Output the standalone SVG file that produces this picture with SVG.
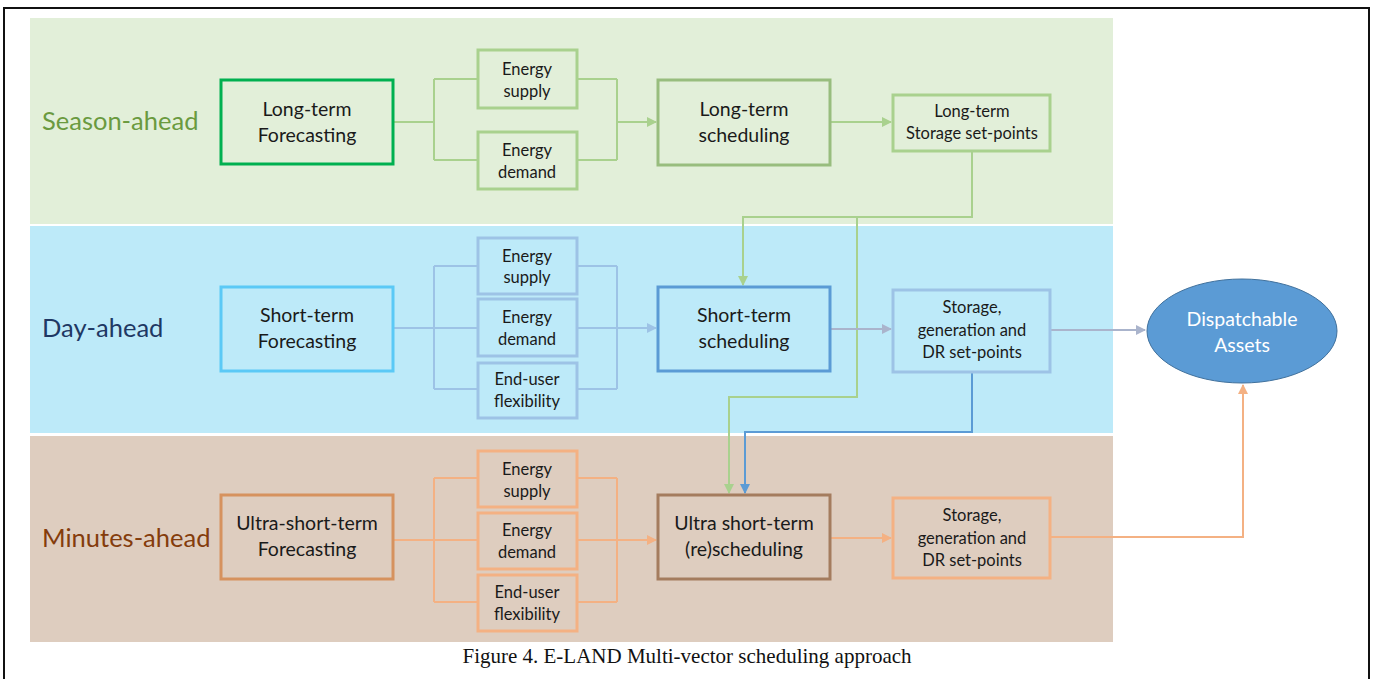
<svg xmlns="http://www.w3.org/2000/svg" width="1374" height="679" viewBox="0 0 1374 679">
<defs>
<style>
.t{font-family:Lato,"Liberation Sans",sans-serif;fill:#1a1a1a;text-anchor:middle}
.b{font-size:19.5px}
.s{font-size:16.5px}
.x{font-size:16.5px}
.lab{font-family:Lato,"Liberation Sans",sans-serif;font-size:25.5px}
.box{stroke-width:3}
.c{fill:none;stroke-width:2}
</style>
<marker id="ag" viewBox="0 0 10 10" refX="9" refY="5" markerWidth="5" markerHeight="5" orient="auto"><path d="M0,0L10,5L0,10z" fill="#a9d18e"/></marker>
<marker id="ab" viewBox="0 0 10 10" refX="9" refY="5" markerWidth="5" markerHeight="5" orient="auto"><path d="M0,0L10,5L0,10z" fill="#9dc3e6"/></marker>
<marker id="ap" viewBox="0 0 10 10" refX="9" refY="5" markerWidth="5" markerHeight="5" orient="auto"><path d="M0,0L10,5L0,10z" fill="#aab4cc"/></marker>
<marker id="ad" viewBox="0 0 10 10" refX="9" refY="5" markerWidth="5" markerHeight="5" orient="auto"><path d="M0,0L10,5L0,10z" fill="#5b9bd5"/></marker>
<marker id="ao" viewBox="0 0 10 10" refX="9" refY="5" markerWidth="5" markerHeight="5" orient="auto"><path d="M0,0L10,5L0,10z" fill="#f4b183"/></marker>
</defs>
<rect width="1374" height="679" fill="#fff"/>
<rect x="4" y="8" width="1365" height="680" fill="none" stroke="#111" stroke-width="2"/>
<g id="bands">
<rect x="30" y="18" width="1083" height="206" fill="#e2efd9"/>
<rect x="30" y="226" width="1083" height="207" fill="#bdeaf9"/>
<rect x="30" y="436" width="1083" height="206" fill="#decdbf"/>
<text class="lab" x="42" y="130" fill="#6a9a3f">Season-ahead</text>
<text class="lab" x="42" y="337" fill="#1f3864">Day-ahead</text>
<text class="lab" x="42" y="547" fill="#843c0c">Minutes-ahead</text>
</g>
<g id="connectors">
<path class="c" stroke="#a9d18e" d="M393,122H434M434,79V160M434,79H478M434,160H478M577,79H617M577,160H617M617,79V160"/>
<path class="c" stroke="#a9d18e" d="M617,122H656" marker-end="url(#ag)"/>
<path class="c" stroke="#a9d18e" d="M830,122H891" marker-end="url(#ag)"/>
<path class="c" stroke="#a9d18e" d="M972,151V217H743V285" marker-end="url(#ag)"/>
<path class="c" stroke="#a9d18e" d="M857,217V397H729V493" marker-end="url(#ag)"/>
<path class="c" stroke="#9dc3e6" d="M393,328H434M434,266V389M434,266H478M434,328H478M434,389H478M577,266H617M577,328H617M577,389H617M617,266V389"/>
<path class="c" stroke="#9dc3e6" d="M617,328H656" marker-end="url(#ab)"/>
<path class="c" stroke="#aab4cc" d="M830,329H891" marker-end="url(#ap)"/>
<path class="c" stroke="#aab4cc" d="M1050,330H1145" marker-end="url(#ap)"/>
<path class="c" stroke="#5b9bd5" stroke-width="1.5" d="M972,372V432H745V493" marker-end="url(#ad)"/>
<path class="c" stroke="#f4b183" d="M393,540H434M434,478V602M434,478H478M434,540H478M434,602H478M577,478H617M577,540H617M577,602H617M617,478V602"/>
<path class="c" stroke="#f4b183" d="M617,540H656" marker-end="url(#ao)"/>
<path class="c" stroke="#f4b183" d="M830,538H891" marker-end="url(#ao)"/>
<path class="c" stroke="#f4b183" d="M1050,537H1243V385" marker-end="url(#ao)"/>
</g>
<g id="ltf"><rect class="box" x="221" y="80" width="172" height="84" fill="none" stroke="#00b050"/><text class="t b" x="307" y="116">Long-term</text><text class="t b" x="307" y="142">Forecasting</text></g>
<g id="s_sup"><rect class="box" x="478" y="50" width="99" height="58" fill="none" stroke="#a9d18e"/><text class="t s" x="527" y="75">Energy</text><text class="t s" x="527" y="97">supply</text></g>
<g id="s_dem"><rect class="box" x="478" y="132" width="99" height="57" fill="none" stroke="#a9d18e"/><text class="t s" x="527" y="156">Energy</text><text class="t s" x="527" y="178">demand</text></g>
<g id="lts"><rect class="box" x="658" y="80" width="172" height="85" fill="none" stroke="#98bd7e"/><text class="t b" x="744" y="116">Long-term</text><text class="t b" x="744" y="142">scheduling</text></g>
<g id="ltsp"><rect class="box" x="893" y="95" width="157" height="56" fill="none" stroke="#a9d18e"/><text class="t x" x="972" y="117">Long-term</text><text class="t x" x="972" y="139">Storage set-points</text></g>

<g id="stf"><rect class="box" x="221" y="287" width="172" height="84" fill="none" stroke="#5bc9f6"/><text class="t b" x="307" y="322">Short-term</text><text class="t b" x="307" y="348">Forecasting</text></g>
<g id="d_sup"><rect class="box" x="478" y="238" width="99" height="56" fill="none" stroke="#9dc3e6"/><text class="t s" x="527" y="262">Energy</text><text class="t s" x="527" y="283">supply</text></g>
<g id="d_dem"><rect class="box" x="478" y="299" width="99" height="57" fill="none" stroke="#9dc3e6"/><text class="t s" x="527" y="323">Energy</text><text class="t s" x="527" y="345">demand</text></g>
<g id="d_flex"><rect class="box" x="478" y="363" width="99" height="55" fill="none" stroke="#9dc3e6"/><text class="t s" x="527" y="385">End-user</text><text class="t s" x="527" y="407">flexibility</text></g>
<g id="sts"><rect class="box" x="658" y="287" width="172" height="84" fill="none" stroke="#5b9bd5"/><text class="t b" x="744" y="322">Short-term</text><text class="t b" x="744" y="348">scheduling</text></g>
<g id="dsp"><rect class="box" x="893" y="290" width="157" height="82" fill="none" stroke="#9dc3e6"/><text class="t x" x="972" y="313">Storage,</text><text class="t x" x="972" y="336">generation and</text><text class="t x" x="972" y="358">DR set-points</text></g>
<g id="assets"><ellipse cx="1242" cy="331" rx="95" ry="52" fill="#5b9bd5" stroke="#41719c" stroke-width="1"/><text class="t b" x="1242" y="326" style="fill:#fff">Dispatchable</text><text class="t b" x="1242" y="352" style="fill:#fff">Assets</text></g>

<g id="ustf"><rect class="box" x="221" y="495" width="172" height="84" fill="none" stroke="#d6925e"/><text class="t b" x="307" y="530">Ultra-short-term</text><text class="t b" x="307" y="556">Forecasting</text></g>
<g id="m_sup"><rect class="box" x="478" y="451" width="99" height="56" fill="none" stroke="#f4b183"/><text class="t s" x="527" y="475">Energy</text><text class="t s" x="527" y="497">supply</text></g>
<g id="m_dem"><rect class="box" x="478" y="513" width="99" height="56" fill="none" stroke="#f4b183"/><text class="t s" x="527" y="536">Energy</text><text class="t s" x="527" y="558">demand</text></g>
<g id="m_flex"><rect class="box" x="478" y="575" width="99" height="56" fill="none" stroke="#f4b183"/><text class="t s" x="527" y="598">End-user</text><text class="t s" x="527" y="620">flexibility</text></g>
<g id="usts"><rect class="box" x="658" y="495" width="172" height="84" fill="none" stroke="#a47c5e"/><text class="t b" x="744" y="530">Ultra short-term</text><text class="t b" x="744" y="556">(re)scheduling</text></g>
<g id="msp"><rect class="box" x="893" y="498" width="157" height="80" fill="none" stroke="#f4b183"/><text class="t x" x="972" y="521">Storage,</text><text class="t x" x="972" y="544">generation and</text><text class="t x" x="972" y="566">DR set-points</text></g>

<text x="687" y="663" font-family="'Liberation Serif',serif" font-size="21" text-anchor="middle" fill="#111">Figure 4. E-LAND Multi-vector scheduling approach</text>
</svg>
